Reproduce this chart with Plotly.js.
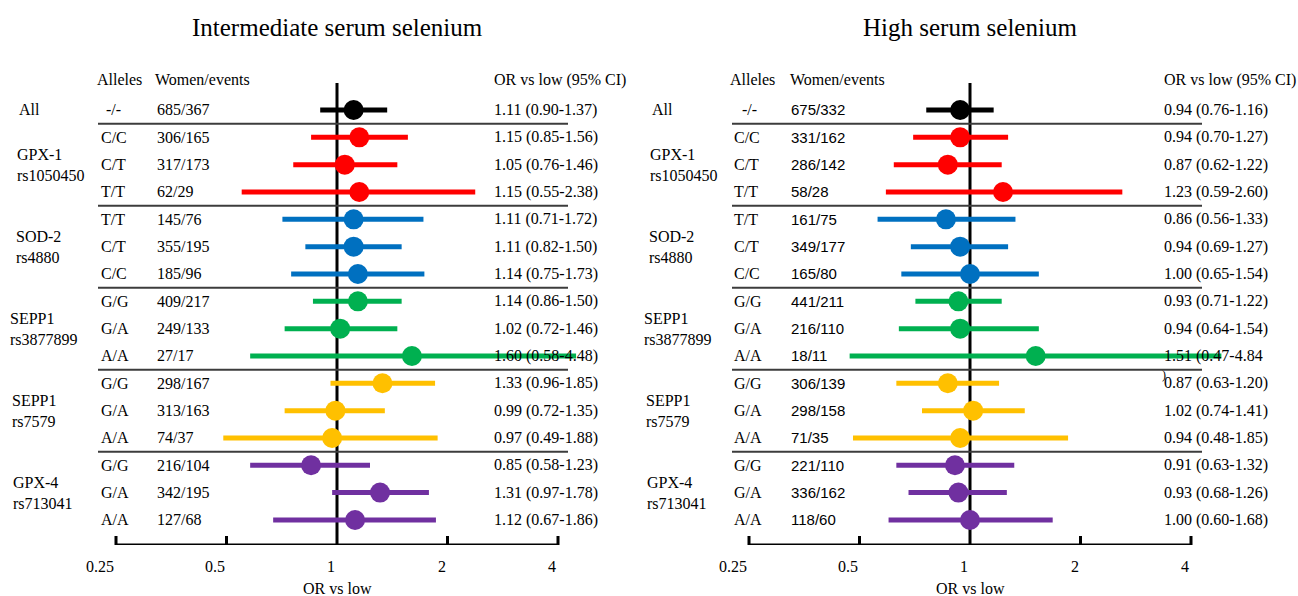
<!DOCTYPE html>
<html>
<head>
<meta charset="utf-8">
<script src="https://cdn.plot.ly/plotly-3.0.1.min.js"></script>
<style>html,body{margin:0;padding:0;background:#fff;}#chart{width:1298px;height:596px;}</style>
</head>
<body>
<div id="chart"></div>
<script>
// ---------- data ----------
const panelTitles = ["Intermediate serum selenium", "High serum selenium"];
const groupLabels = ["All", "GPX-1<br>rs1050450", "SOD-2<br>rs4880", "SEPP1<br>rs3877899", "SEPP1<br>rs7579", "GPX-4<br>rs713041"];
const groupColors = ["#000000", "#FF0000", "#0070C0", "#00B050", "#FFC000", "#7030A0"];
const rowGroup = [0, 1, 1, 1, 2, 2, 2, 3, 3, 3, 4, 4, 4, 5, 5, 5];
const alleles = ["-/-", "C/C", "C/T", "T/T", "T/T", "C/T", "C/C", "G/G", "G/A", "A/A", "G/G", "G/A", "A/A", "G/G", "G/A", "A/A"];

const womenInt = ["685/367", "306/165", "317/173", "62/29", "145/76", "355/195", "185/96", "409/217", "249/133", "27/17", "298/167", "313/163", "74/37", "216/104", "342/195", "127/68"];
const orInt = [1.11, 1.15, 1.05, 1.15, 1.11, 1.11, 1.14, 1.14, 1.02, 1.60, 1.33, 0.99, 0.97, 0.85, 1.31, 1.12];
const loInt = [0.90, 0.85, 0.76, 0.55, 0.71, 0.82, 0.75, 0.86, 0.72, 0.58, 0.96, 0.72, 0.49, 0.58, 0.97, 0.67];
const hiInt = [1.37, 1.56, 1.46, 2.38, 1.72, 1.50, 1.73, 1.50, 1.46, 4.48, 1.85, 1.35, 1.88, 1.23, 1.78, 1.86];

const womenHigh = ["675/332", "331/162", "286/142", "58/28", "161/75", "349/177", "165/80", "441/211", "216/110", "18/11", "306/139", "298/158", "71/35", "221/110", "336/162", "118/60"];
const orHigh = [0.94, 0.94, 0.87, 1.23, 0.86, 0.94, 1.00, 0.93, 0.94, 1.51, 0.87, 1.02, 0.94, 0.91, 0.93, 1.00];
const loHigh = [0.76, 0.70, 0.62, 0.59, 0.56, 0.69, 0.65, 0.71, 0.64, 0.47, 0.63, 0.74, 0.48, 0.63, 0.68, 0.60];
const hiHigh = [1.16, 1.27, 1.22, 2.60, 1.33, 1.27, 1.54, 1.22, 1.54, 4.84, 1.20, 1.41, 1.85, 1.32, 1.26, 1.68];

const tickVals = [0.25, 0.5, 1, 2, 4];
const tickText = ["0.25", "0.5", "1", "2", "4"];
const headerTexts = ["Alleles", "Women/events", "OR vs low (95% CI)"];
const axisTitleText = "OR vs low";

// ---------- layout geometry ----------
const W = 1298, H = 596;
const ROW0 = 110, ROWH = 27.33;
const rowOf = px => (px - ROW0) / ROWH;
const pyPaper = px => 1 - px / H;
const yTopPx = 60, yBotPx = 545;
const SERIF = "Liberation Serif, Times New Roman, serif";
const SANS = "Liberation Sans, Arial, sans-serif";

const panels = [
  {xa: "x", p025: 116, p4: 558, alleleX: 99, dashX: 104, womenX: 155, womenFont: SERIF, orX: 492,
   groupX: [17, 15, 14, 8, 10, 11], sepX0: 98, sepX1: 568, hAllelesX: 95, hWomenX: 153, hOrX: 492, titleX: 337,
   women: womenInt, or: orInt, lo: loInt, hi: hiInt, title: panelTitles[0]},
  {xa: "x2", p025: 749, p4: 1191, alleleX: 732, dashX: 740, womenX: 789, womenFont: SANS, orX: 1162,
   groupX: [650, 648, 647, 642, 644, 645], sepX0: 732, sepX1: 1202, hAllelesX: 728, hWomenX: 788, hOrX: 1162, titleX: 970,
   women: womenHigh, or: orHigh, lo: loHigh, hi: hiHigh, title: panelTitles[1]}
];

const L025 = Math.log10(0.25), L4 = Math.log10(4);
const padLo = 0.1, padHi = 0.15;

const traces = [];
const shapes = [];
const annotations = [];
const layout = {
  width: W, height: H,
  margin: {l: 0, r: 0, t: 0, b: 0},
  paper_bgcolor: "#ffffff", plot_bgcolor: "rgba(0,0,0,0)",
  showlegend: false, hovermode: false,
  yaxis: {domain: [pyPaper(yBotPx), pyPaper(yTopPx)], range: [rowOf(yBotPx), rowOf(yTopPx)],
          visible: false, fixedrange: true}
};

panels.forEach((p, pi) => {
  const pxPerUnit = (p.p4 - p.p025) / (L4 - L025);
  const d0 = (p.p025 - padLo * pxPerUnit) / W;
  const d1 = (p.p4 + padHi * pxPerUnit) / W;
  const axName = pi === 0 ? "xaxis" : "xaxis2";
  layout[axName] = {type: "log", domain: [d0, d1], range: [L025 - padLo, L4 + padHi],
                    showgrid: false, zeroline: false, showline: false, showticklabels: false,
                    ticks: "", anchor: "y", fixedrange: true};
  const xref = p.xa;

  // CI lines and markers per group
  groupLabels.forEach((g, gi) => {
    const lx = [], ly = [], mx = [], my = [];
    rowGroup.forEach((rg, i) => {
      if (rg !== gi) return;
      lx.push(p.lo[i], p.hi[i], null); ly.push(i, i, null);
      mx.push(p.or[i]); my.push(i);
    });
    traces.push({type: "scatter", mode: "lines", x: lx, y: ly, xaxis: xref, yaxis: "y",
                 line: {color: groupColors[gi], width: 5}, hoverinfo: "skip"});
    traces.push({type: "scatter", mode: "markers", x: mx, y: my, xaxis: xref, yaxis: "y",
                 marker: {color: groupColors[gi], size: 20}, cliponaxis: false, hoverinfo: "skip"});
  });

  // reference line at OR = 1
  shapes.push({type: "line", xref: xref, yref: "y", x0: 1, x1: 1, y0: rowOf(83), y1: rowOf(yBotPx),
               line: {color: "#000", width: 3}, layer: "below"});
  // axis line
  shapes.push({type: "line", xref: xref, yref: "y", x0: tickVals[0], x1: tickVals[tickVals.length - 1],
               y0: rowOf(yBotPx), y1: rowOf(yBotPx), line: {color: "#000", width: 3}});
  // ticks
  tickVals.forEach((v, k) => {
    if (v === 1) return;
    shapes.push({type: "line", xref: xref, yref: "y", x0: v, x1: v, y0: rowOf(yBotPx), y1: rowOf(yBotPx - 9),
                 line: {color: "#000", width: 3}});
    });
  tickVals.forEach((v, k) => {
    annotations.push({xref: xref, yref: "paper", x: Math.log10(v), y: pyPaper(566), xanchor: "right", yanchor: "middle",
                      text: tickText[k], showarrow: false, font: {family: SERIF, size: 16, color: "#000"}});
  });
  annotations.push({xref: xref, yref: "paper", x: 0, y: pyPaper(588), xanchor: "center", yanchor: "middle",
                    text: axisTitleText, showarrow: false, font: {family: SERIF, size: 16, color: "#000"}});

  // panel title
  annotations.push({xref: "paper", yref: "paper", x: p.titleX / W, y: pyPaper(27), xanchor: "center", yanchor: "middle",
                    text: p.title, showarrow: false, font: {family: SERIF, size: 25, color: "#000"}});

  // headers
  const hx = [p.hAllelesX, p.hWomenX, p.hOrX];
  headerTexts.forEach((t, k) => {
    annotations.push({xref: "paper", yref: "y", x: hx[k] / W, y: rowOf(80), xanchor: "left", yanchor: "middle",
                      text: t, showarrow: false, font: {family: SERIF, size: 16, color: "#000"}});
  });

  // separators between groups
  for (let i = 1; i < rowGroup.length; i++) {
    if (rowGroup[i] !== rowGroup[i - 1]) {
      shapes.push({type: "line", xref: "paper", yref: "y", x0: p.sepX0 / W, x1: p.sepX1 / W, y0: i - 0.5, y1: i - 0.5,
                   line: {color: "#3c3c3c", width: 2}});
    }
  }

  // group labels
  groupLabels.forEach((g, gi) => {
    const rows = rowGroup.map((rg, i) => rg === gi ? i : null).filter(v => v !== null);
    const mid = (rows[0] + rows[rows.length - 1]) / 2;
    annotations.push({xref: "paper", yref: "y", x: p.groupX[gi] / W, y: mid, xanchor: "left", yanchor: "middle",
                      align: "left", text: g, showarrow: false, font: {family: SERIF, size: 16, color: "#000"}});
  });

  // row texts
  alleles.forEach((a, i) => {
    const ax = (a === "-/-" ? p.dashX : p.alleleX) / W;
    annotations.push({xref: "paper", yref: "y", x: ax, y: i, xanchor: "left", yanchor: "middle",
                      text: a, showarrow: false, font: {family: SERIF, size: 16, color: "#000"}});
    annotations.push({xref: "paper", yref: "y", x: p.womenX / W, y: i, xanchor: "left", yanchor: "middle",
                      text: p.women[i], showarrow: false, font: {family: p.womenFont, size: p.womenFont === SANS ? 15 : 16, color: "#000"}});
    let t = p.or[i].toFixed(2) + " (" + p.lo[i].toFixed(2) + "-" + p.hi[i].toFixed(2) + ")";
    if (pi === 1 && i === 9) t = t.slice(0, -1);
    annotations.push({xref: "paper", yref: "y", x: p.orX / W, y: i, xanchor: "left", yanchor: "middle",
                      text: t, showarrow: false, font: {family: SERIF, size: 16, color: "#000"}});
  });
  if (pi === 1) {
    annotations.push({xref: "paper", yref: "y", x: 1160 / W, y: rowOf(375), xanchor: "left", yanchor: "middle",
                      text: ")", showarrow: false, font: {family: SERIF, size: 12, color: "#000"}});
  }
});

layout.shapes = shapes;
layout.annotations = annotations;

Plotly.newPlot("chart", traces, layout, {displayModeBar: false, staticPlot: true});
</script>
</body>
</html>
